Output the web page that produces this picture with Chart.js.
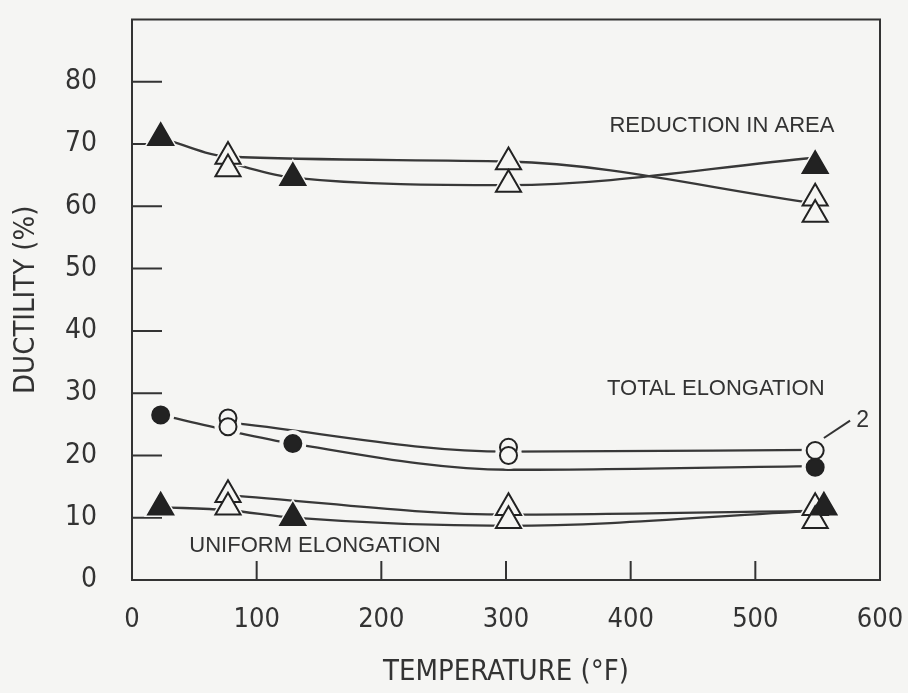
<!DOCTYPE html>
<html><head><meta charset="utf-8">
<script src="https://cdn.jsdelivr.net/npm/chart.js@4.4.1/dist/chart.umd.min.js"></script>
<style>html,body{margin:0;padding:0;background:#f5f5f3;}canvas{display:block;}</style>
</head><body>
<canvas id="c" width="908" height="693"></canvas>
<script>
// ---- tick labels ----
const xTicks = [0, 100, 200, 300, 400, 500, 600];
const yTicks = [0, 10, 20, 30, 40, 50, 60, 70, 80];

// ---- measured points (temperature °F, ductility %) ----
// Reduction in area
const raFilledT = [23, 129, 548];
const raFilledV = [71.0, 64.6, 66.5];
const raOpenT = [77, 77, 302, 302, 548, 548];
const raOpenV = [68.0, 66.0, 67.1, 63.5, 61.3, 58.7];
// Total elongation
const teFilledT = [23, 129, 548];
const teFilledV = [26.5, 21.9, 18.1];
const teOpenT = [77, 77, 302, 302, 548];
const teOpenV = [26.0, 24.6, 21.3, 20.0, 20.8];
// Uniform elongation
const ueFilledT = [23, 129, 555];
const ueFilledV = [11.7, 10.0, 11.7];
const ueOpenT = [77, 77, 302, 302, 548, 548];
const ueOpenV = [13.7, 11.7, 11.6, 9.5, 11.6, 9.5];

// ---- trend curves (at the test temperatures) ----
const raCurve1T = [23, 77, 302, 548];
const raCurve1V = [71.0, 68.0, 67.2, 60.5];
const raCurve2T = [77, 129, 302, 548];
const raCurve2V = [67.0, 64.6, 63.4, 67.8];
const teCurve1T = [77, 302, 548];
const teCurve1V = [25.3, 20.6, 20.9];
const teCurve2T = [23, 77, 129, 302, 548];
const teCurve2V = [26.5, 24.0, 21.9, 17.7, 18.3];
const ueCurve1T = [77, 302, 548];
const ueCurve1V = [13.6, 10.5, 11.1];
const ueCurve2T = [23, 77, 129, 302, 548];
const ueCurve2V = [11.7, 11.2, 10.0, 8.7, 11.1];

// ---- styling ----
const BG = '#f5f5f3';
const INK = '#333333';
const NARROW = '"DejaVu Sans Condensed", "Liberation Sans Narrow", sans-serif';
const SANS = '"Liberation Sans", Arial, sans-serif';
const TRI_R = 14.5, CIR_R = 8.5, HALO = 5;

const pts = (t, v) => t.map((x, i) => ({x, y: v[i]}));

function markerSet(t, v, style, filled) {
  const r = style === 'triangle' ? TRI_R : CIR_R;
  return [
    {data: pts(t, v), showLine: false, pointStyle: style, pointRadius: r,
     pointBackgroundColor: filled ? '#222' : BG, pointBorderColor: '#222',
     pointBorderWidth: 2, order: 0},
    {data: pts(t, v), showLine: false, pointStyle: style, pointRadius: r + HALO,
     pointBackgroundColor: BG, pointBorderColor: BG, pointBorderWidth: 0, order: 1}
  ];
}
function curve(t, v) {
  return {data: pts(t, v), showLine: true, pointRadius: 0, borderColor: '#383838',
          borderWidth: 2.3, cubicInterpolationMode: 'monotone', fill: false, order: 2};
}

const datasets = [
  ...markerSet(raFilledT, raFilledV, 'triangle', true),
  ...markerSet(raOpenT, raOpenV, 'triangle', false),
  ...markerSet(teFilledT, teFilledV, 'circle', true),
  ...markerSet(teOpenT, teOpenV, 'circle', false),
  ...markerSet(ueFilledT, ueFilledV, 'triangle', true),
  ...markerSet(ueOpenT, ueOpenV, 'triangle', false),
  curve(raCurve1T, raCurve1V), curve(raCurve2T, raCurve2V),
  curve(teCurve1T, teCurve1V), curve(teCurve2T, teCurve2V),
  curve(ueCurve1T, ueCurve1V), curve(ueCurve2T, ueCurve2V)
];

const notes = [
  {text: 'REDUCTION IN AREA', x: 383, y: 72.9},
  {text: 'TOTAL ELONGATION', x: 381, y: 30.6},
  {text: 'UNIFORM ELONGATION', x: 46, y: 5.4}
];

const deco = {
  id: 'deco',
  beforeDraw(chart) {
    const {ctx, width, height} = chart;
    ctx.save(); ctx.fillStyle = BG; ctx.fillRect(0, 0, width, height); ctx.restore();
  },
  beforeDatasetsDraw(chart) {
    const {ctx, chartArea: a, scales: {x, y}} = chart;
    ctx.save();
    ctx.strokeStyle = INK; ctx.lineWidth = 2;
    ctx.strokeRect(a.left, a.top, a.right - a.left, a.bottom - a.top);
    ctx.beginPath();
    yTicks.forEach(v => { if (v > 0) { const py = y.getPixelForValue(v); ctx.moveTo(a.left, py); ctx.lineTo(a.left + 30, py); } });
    xTicks.forEach(v => { if (v > xTicks[0] && v < xTicks[xTicks.length - 1]) { const px = x.getPixelForValue(v); ctx.moveTo(px, a.bottom); ctx.lineTo(px, a.bottom - 19); } });
    ctx.stroke();
    ctx.restore();
  },
  afterDraw(chart) {
    const {ctx, scales: {x, y}} = chart;
    ctx.save();
    ctx.fillStyle = INK; ctx.font = '22px ' + SANS;
    ctx.textBaseline = 'middle'; ctx.textAlign = 'left';
    notes.forEach(n => ctx.fillText(n.text, x.getPixelForValue(n.x), y.getPixelForValue(n.y)));
    // duplicate marker note "2"
    ctx.font = '23px ' + SANS;
    ctx.fillText('2', x.getPixelForValue(581), y.getPixelForValue(25.6));
    ctx.strokeStyle = INK; ctx.lineWidth = 2;
    ctx.beginPath();
    ctx.moveTo(x.getPixelForValue(555), y.getPixelForValue(22.8));
    ctx.lineTo(x.getPixelForValue(576), y.getPixelForValue(25.6));
    ctx.stroke();
    ctx.restore();
  }
};

new Chart(document.getElementById('c'), {
  type: 'scatter',
  data: {datasets},
  options: {
    responsive: false, animation: false, devicePixelRatio: 1,
    layout: {padding: {top: 16, right: 28, bottom: 0, left: 0}},
    plugins: {legend: {display: false}, tooltip: {enabled: false}},
    scales: {
      x: {
        type: 'linear', min: xTicks[0], max: xTicks[xTicks.length - 1],
        afterBuildTicks: s => { s.ticks = xTicks.map(v => ({value: v})); },
        afterFit: s => { s.height = 113; s.paddingLeft = 0; s.paddingRight = 0; },
        grid: {display: false, drawTicks: false}, border: {display: false},
        ticks: {padding: 24, color: INK, font: {family: NARROW, size: 27}, maxRotation: 0},
        title: {display: true, text: 'TEMPERATURE (°F)', color: INK,
                font: {family: NARROW, size: 29}, padding: {top: 4, bottom: 3}}
      },
      y: {
        type: 'linear', min: 0, max: 90,
        afterBuildTicks: s => { s.ticks = yTicks.map(v => ({value: v})); },
        afterFit: s => { s.width = 132; s.paddingTop = 0; s.paddingBottom = 0; },
        grid: {display: false, drawTicks: false}, border: {display: false},
        ticks: {padding: 35, color: INK, font: {family: NARROW, size: 28}},
        title: {display: true, text: 'DUCTILITY (%)', color: INK,
                font: {family: NARROW, size: 29}, padding: {top: 9, bottom: 0}}
      }
    }
  },
  plugins: [deco]
});
</script>
</body></html>
